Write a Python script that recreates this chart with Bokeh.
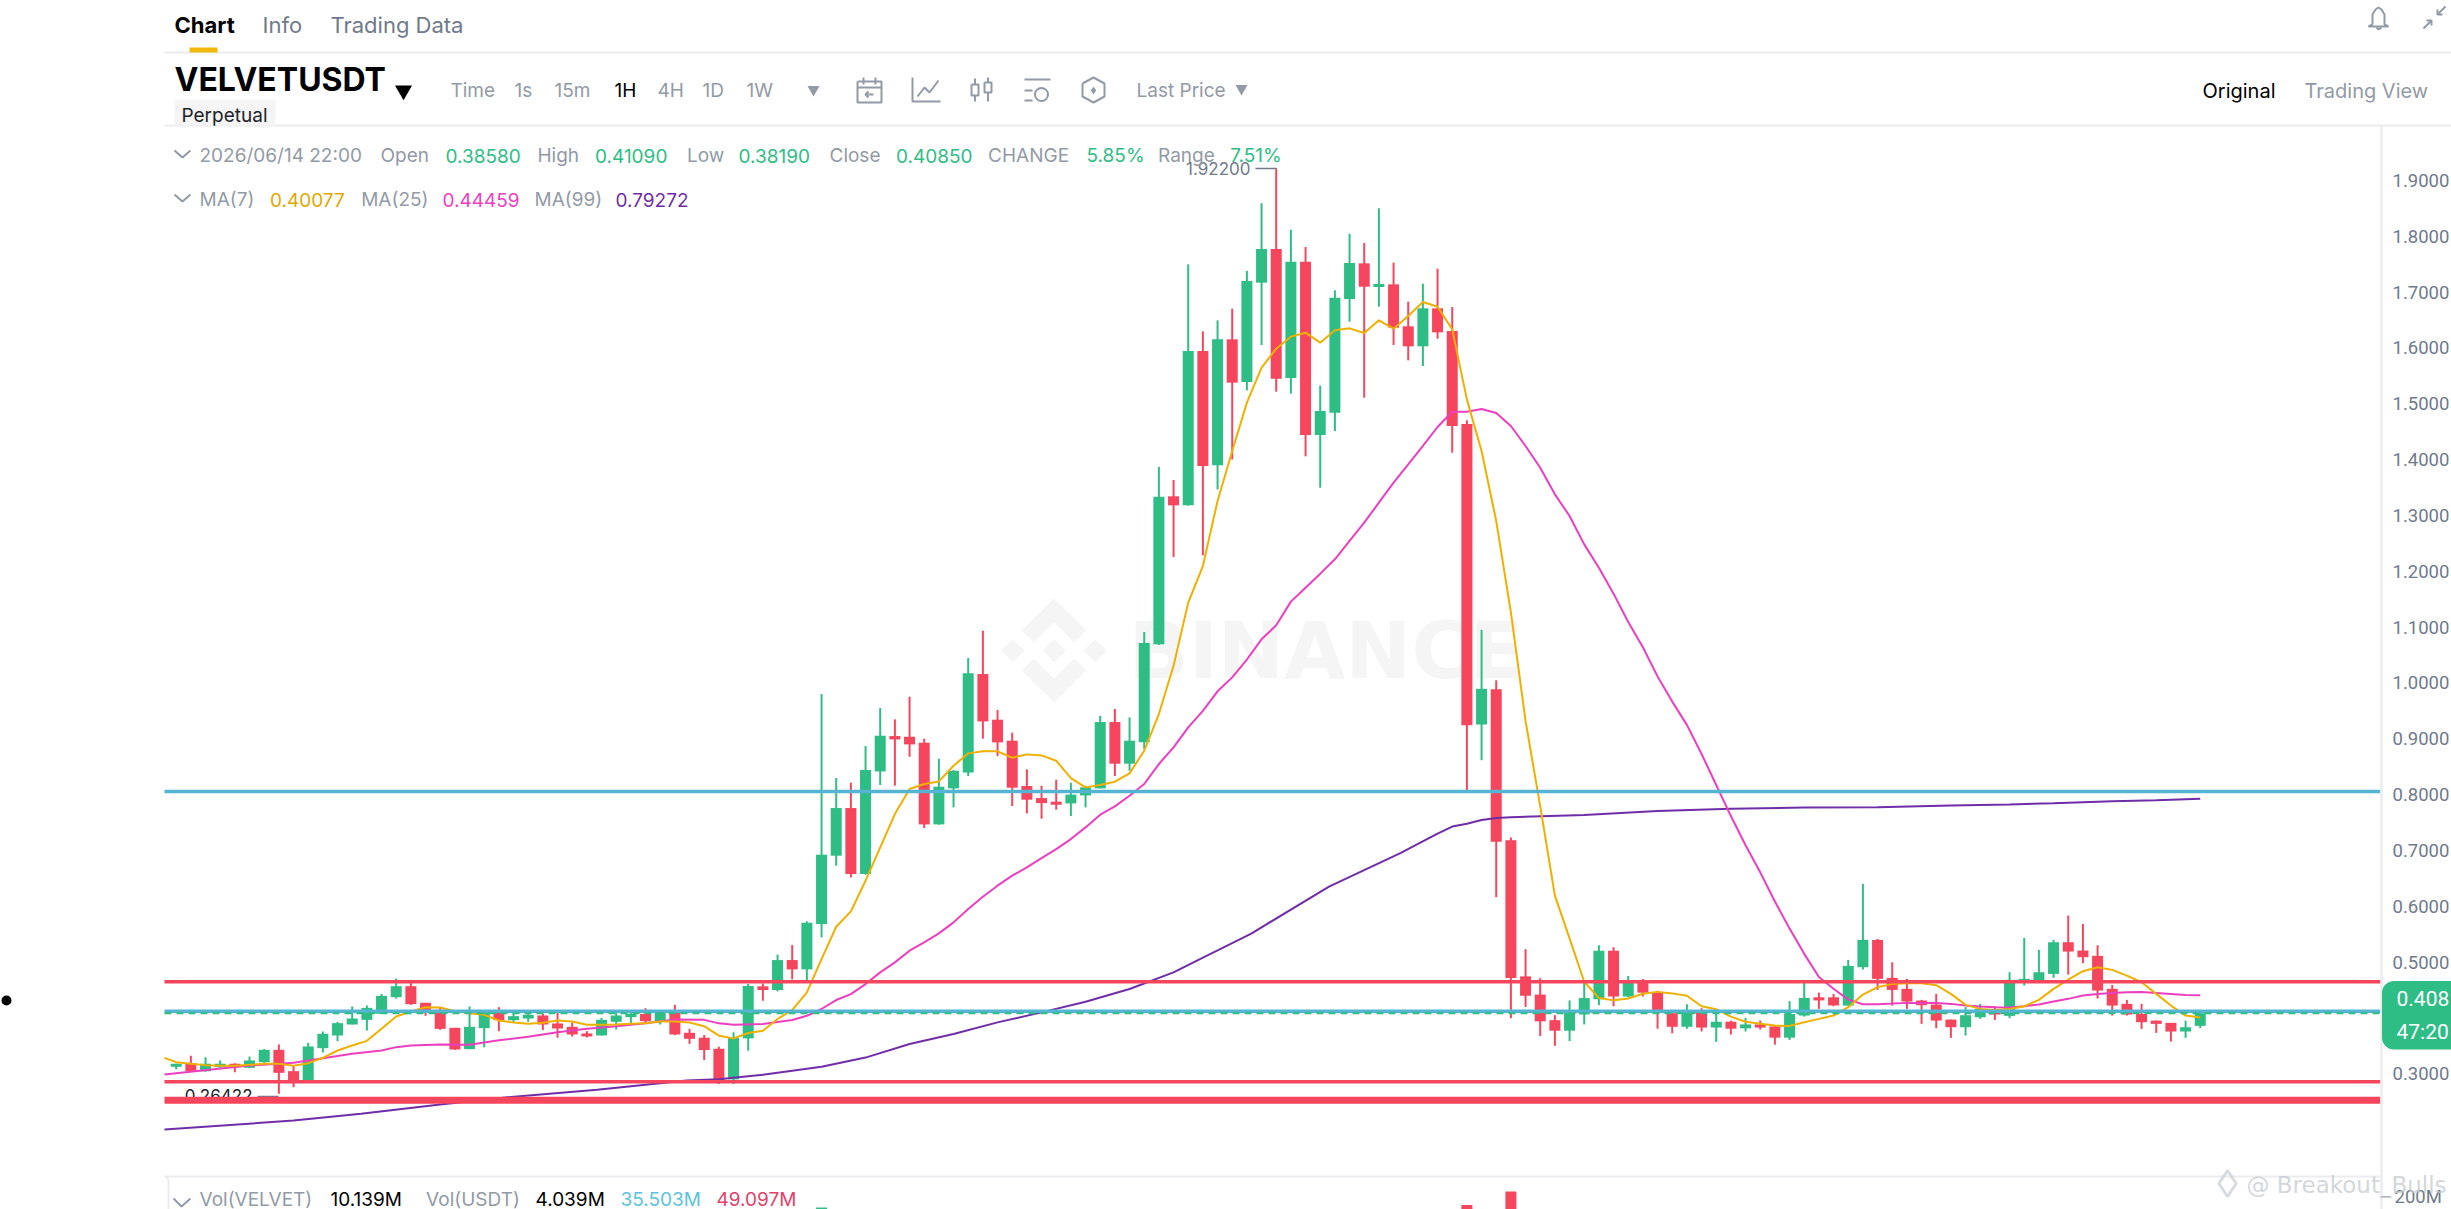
from bokeh.plotting import figure
from bokeh.embed import file_html
from bokeh.resources import INLINE
from bokeh.models import (Range1d, LinearAxis, FixedTicker, Label, BoxAnnotation)
from bokeh.core.properties import value
import math

# ---------- data ----------
first_index = 0
opens = [.3124,.3190,.3047,.3119,.3178,.3107,.3208,.3429,.3047,.2870,
 .3459,.3686,.3883,.3966,.4074,.4372,.4569,.4271,.4145,.3823,
 .3441,.3817,.4092,.3960,.3990,.4044,.3901,.3841,.3722,.3686,
 .3931,.4014,.4074,.3942,.4092,.3734,.3646,.3449,.2900,.3634,
 .4566,.4500,.5037,.4870,.5682,.6906,.7760,.6578,.8416,.9049,
 .9037,.8930,.7467,.8112,.8398,1.0160,.9342,.8966,.8154,.7939,
 .7873,.7843,.7986,.8112,.9300,.8554,.8936,1.0692,1.3343,1.3182,
 1.5946,1.3898,1.6155,1.5391,1.7170,1.7773,1.5462,1.7546,1.4442,1.4841,
 1.6877,1.7516,1.7092,1.7140,1.6388,1.6030,1.6710,1.6304,1.4639,.9256,
 .9888,.7185,.4745,.4419,.3960,.3772,.4064,.4335,.5204,.4384,
 .4662,.4467,.4085,.3842,.4106,.3828,.3932,.3814,.3884,.3849,
 .3647,.4043,.4370,.4370,.4222,.4909,.5398,.4718,.4521,.4312,
 .4240,.3971,.3834,.4013,.4133,.4037,.4670,.4640,.4789,.5356,
 .5207,.5112,.4521,.4252,.4073,.3953,.3912,.3757,.3858]
highs = [.3178,.3321,.3298,.3238,.3190,.3310,.3441,.3524,.3148,.3554,
 .3757,.3930,.4205,.4223,.4432,.4707,.4623,.4271,.4193,.3823,
 .4205,.4120,.4193,.4092,.4092,.4074,.4092,.3919,.3763,.4002,
 .4104,.4134,.4175,.4134,.4235,.3805,.3694,.3485,.3742,.4608,
 .4619,.5133,.5306,.5730,.9801,.8297,.8213,.8870,.9551,.9348,
 .9754,.9001,.8643,.8440,1.0446,1.0936,.9515,.9109,.8452,.8160,
 .8267,.8213,.8160,.9413,.9533,.9384,1.0912,1.3868,1.3636,1.7498,
 1.6298,1.6495,1.6704,1.7379,1.8591,1.9220,1.8119,1.7809,1.5325,1.7033,
 1.8047,1.7880,1.8501,1.7528,1.6830,1.7152,1.7421,1.6734,1.4704,1.0952,
 1.0048,.7233,.5232,.4711,.4051,.4314,.4627,.5302,.5267,.4752,
 .4697,.4488,.4120,.4245,.4175,.4106,.3953,.4002,.3953,.3863,
 .4301,.4627,.4453,.4432,.5040,.6401,.5416,.4998,.4700,.4324,
 .4431,.3971,.4192,.4252,.4210,.4819,.5434,.5219,.5398,.5834,
 .5685,.5303,.4592,.4324,.4252,.3953,.3912,.3953,.4109]
lows = [.3083,.3047,.3035,.3107,.3029,.3101,.3196,.26422,.2760,.2870,
 .3381,.3584,.3883,.3775,.4074,.4348,.4235,.4038,.3787,.3429,
 .3441,.3474,.3763,.3919,.3931,.3781,.3644,.3668,.3650,.3686,
 .3793,.3907,.3907,.3883,.3692,.3536,.3246,.2816,.2816,.3413,
 .4309,.4476,.4691,.4643,.5443,.6727,.6518,.6566,.8172,.8160,
 .8679,.7401,.7461,.7771,.8333,.9001,.8691,.7795,.7664,.7569,
 .7730,.7616,.7771,.8112,.8333,.8428,.8816,1.0680,1.2257,1.3176,
 1.2286,1.3468,1.4003,1.5241,1.6053,1.5218,1.5182,1.4060,1.3498,1.4513,
 1.6471,1.5110,1.6740,1.6053,1.5779,1.5677,1.6167,1.4125,.8067,.8617,
 .6163,.3995,.4197,.3675,.3501,.3585,.3884,.4231,.4210,.4370,
 .4384,.3807,.3724,.3807,.3758,.3571,.3703,.3758,.3793,.3522,
 .3606,.4023,.4162,.4210,.4222,.4867,.4503,.4222,.4162,.3894,
 .3816,.3643,.3685,.3983,.3965,.3995,.4580,.4640,.4718,.4777,
 .4980,.4348,.4043,.4043,.3804,.3733,.3577,.3643,.3819]
closes = [.3178,.3047,.3178,.3178,.3119,.3238,.3429,.3017,.2880,.3489,
 .3716,.3907,.3990,.4181,.4396,.4569,.4247,.4104,.3805,.3435,
 .3841,.4098,.3960,.4032,.4056,.3883,.3811,.3704,.3668,.3966,
 .4044,.4074,.3942,.4104,.3704,.3626,.3425,.2876,.3640,.4572,
 .4500,.5037,.4870,.5706,.6924,.7760,.6578,.8440,.9055,.8989,
 .8900,.7467,.8142,.8428,1.0172,.9312,.8936,.8124,.7909,.7849,
 .7819,.8000,.8130,.9300,.8554,.8966,1.0715,1.3337,1.3182,1.5946,
 1.3886,1.6155,1.5379,1.7200,1.7773,1.5450,1.7546,1.4442,1.4871,1.6901,
 1.7522,1.7098,1.7146,1.6364,1.6030,1.6710,1.6280,1.4603,.9242,.9895,
 .7157,.4717,.4398,.3939,.3772,.4092,.4356,.5204,.4384,.4627,
 .4453,.4106,.3842,.4106,.3828,.3932,.3807,.3884,.3828,.3647,
 .4071,.4359,.4314,.4224,.4933,.5398,.4700,.4503,.4294,.4228,
 .3953,.3834,.4049,.4162,.4061,.4682,.4700,.4819,.5356,.5189,
 .5088,.4491,.4222,.4061,.3924,.3894,.3757,.3834,.4085]

ma7_idx = [-0.8]+list(range(0,139))
ma7 = [.3286,.3208,.3178,.3155,.3143,.3143,.3160,.3178,.3178,.3143,.3190,
 .3286,.3417,.3507,.3590,.3805,.4026,.4115,.4193,.4187,.4121,
 .4086,.4056,.3954,.3919,.3895,.3913,.3954,.3936,.3877,.3877,
 .3883,.3895,.3907,.3936,.3936,.3919,.3853,.3682,.3634,.3730,
 .3771,.3981,.4142,.4458,.5055,.5634,.5909,.6458,.7055,.7652,
 .8100,.8190,.8237,.8518,.8739,.8775,.8775,.8661,.8721,.8703,
 .8607,.8297,.8130,.8172,.8231,.8380,.8787,.9443,1.0309,1.1439,
 1.2095,1.3260,1.4155,1.5021,1.5648,1.5988,1.6203,1.6274,1.6095,1.6316,
 1.6352,1.6268,1.6495,1.6346,1.6573,1.6824,1.6740,1.6334,1.5080,1.4155,
 1.2901,1.1265,.9319,.7790,.6191,.5426,.4648,.4356,.4315,.4349,
 .4433,.4467,.4440,.4398,.4210,.4155,.4023,.3932,.3897,.3863,
 .3858,.3924,.3983,.4043,.4192,.4419,.4551,.4610,.4622,.4622,
 .4586,.4431,.4234,.4162,.4144,.4162,.4210,.4324,.4521,.4688,
 .4837,.4909,.4861,.4759,.4640,.4431,.4222,.4043,.4008]

ma25_idx = [-0.8,0,5,7,8,10,12,14,15,16,18,20,22,24,26,28,30,32,34,36,37,38,40,42,43,
 44,45,46,47,48,49,50,51,52,53,54,55,56,57,58,59,60,61,62,63,64,65,66,67,68,69,70,71,72,
 73,74,75,76,77,78,79,80,81,82,83,84,85,86,87,88,89,90,91,92,93,94,95,96,97,98,99,100,
 101,102,103,104,105,106,107,108,109,110,111,112,113,114,115,116,118,120,121,122,123,124,
 125,126,127,128,129,130,131,132,133,134,135,136,137,138]
ma25 = [.2987,.3011,.3148,.3178,.3196,.3280,.3357,.3417,.3477,.3507,.3524,.3519,.3600,.3662,
 .3745,.3805,.3853,.3907,.3972,.3966,.3903,.3879,.3891,.3963,.4040,
 .4160,.4321,.4428,.4607,.4816,.4996,.5204,.5354,.5515,.5712,.5951,.6172,.6369,.6548,.6697,
 .6864,.7025,.7204,.7413,.7640,.7789,.7980,.8190,.8548,.8846,.9204,.9500,.9850,1.0100,
 1.0420,1.0782,1.1033,1.1457,1.1707,1.1958,1.2215,1.2543,1.2871,1.3230,1.3588,1.3916,1.4245,
 1.4585,1.4859,1.4859,1.4907,1.4835,1.4603,1.4245,1.3856,1.3379,1.2991,1.2483,1.2065,1.1600,
 1.1091,1.0639,1.0118,.9666,.9249,.8728,.8172,.7616,.7094,.6608,.6087,.5600,.5148,.4732,
 .4523,.4328,.4245,.4245,.4270,.4270,.4252,.4222,.4204,.4192,.4186,.4210,.4240,.4294,.4342,
 .4401,.4431,.4449,.4461,.4467,.4449,.4431,.4413,.4407]

ma99_idx = [-0.8,8,12.6,18,22.6,28.7,34.8,37,40,44,47,50,53,56,59,62,65,68,69.8,73.3,78.6,
 83.5,84.6,86,87,88,89,90,91,96,101,106,111,116,121,125,128,132,135,138]
ma99 = [.2000,.2163,.2282,.2449,.2581,.2712,.2879,.2900,.2984,.3127,.3290,.3533,.3712,.3921,
 .4100,.4291,.4518,.4816,.5055,.5512,.6352,.6956,.7108,.7303,.7428,.7477,.7546,.7581,.7595,
 .7637,.7706,.7748,.7769,.7776,.7806,.7825,.7845,.7882,.7900,.7927]

vol_idx = [44,88,91]
vol_vals = [178e6,183e6,210e6]
vol_up = [True,False,False]

cyan_levels = [.8056,.4120]
red_levels = [.4647,.2857]
thick_level = .2527
last_price = .4085
price_ticks = [.3,.5,.6,.7,.8,.9,1.0,1.1,1.2,1.3,1.4,1.5,1.6,1.7,1.8,1.9]
vol_ticks = [200e6]

GREEN="#2EBD85"; RED="#F6465D"; CYAN="#56B4D3"; GREY="#929AA5"; DARKGREY="#707A8A"
ORANGE="#F0B000"; PINK="#EC3FBF"; PURPLE="#6F2DA8"; RULE="#EAECEF"

# ---------- reference-pixel helpers for decoration ----------
def X(px): return (px-175.7)/14.667
def Y(py): return 1.9-(py-180)/558.3
def V(py): return 200e6+(1196-py)*2e6

p = figure(width=2451, height=1209, output_backend="svg", toolbar_location=None,
           x_range=Range1d(X(0),X(2451)), y_range=Range1d(Y(1209),Y(0)),
           x_axis_location=None, y_axis_location=None, min_border=0,
           min_border_left=0,min_border_right=0,min_border_top=0,min_border_bottom=0,
           background_fill_color="white", border_fill_color="white", outline_line_color=None)
p.grid.visible=False
p.extra_y_ranges={"vol":Range1d(V(1209),V(0))}

def polys(lines,color=GREY,width=2,alpha=1.0):
    p.multi_line([[X(a) for a,b in l] for l in lines],[[Y(b) for a,b in l] for l in lines],
                 line_color=color,line_width=width,line_alpha=alpha)

# BINANCE watermark
LOGO=[[(153,55),(245,150),(210,185),(153,125),(95,185),(60,150)],
      [(153,365),(245,270),(210,235),(153,295),(95,235),(60,270)],
      [(153,177),(187,210),(153,245),(120,210)],
      [(35,177),(69,210),(35,245),(2,210)],
      [(270,177),(303,210),(270,245),(237,210)]]
p.patches([[X(1000+a/2.851) for a,b in s] for s in LOGO],[[Y(580+b/3) for a,b in s] for s in LOGO],
          fill_color="#F5F5F5",line_color=None)
p.text([X(1128)],[Y(650)],text=["BINANCE"],text_font=value("DejaVu Sans"),text_font_style="bold",
       text_font_size="79px",text_color="#F5F5F5",text_baseline="middle")

# volume
p.vbar(x=vol_idx,top=vol_vals,bottom=0,width=.75,y_range_name="vol",
       fill_color=[GREEN if u else RED for u in vol_up],line_color=None)

# candles
idx=list(range(first_index,first_index+len(opens)))
cols=[GREEN if c>=o else RED for o,c in zip(opens,closes)]
p.segment(idx,lows,idx,highs,line_color=cols,line_width=2)
p.vbar(x=idx,top=[max(o,c) for o,c in zip(opens,closes)],bottom=[min(o,c) for o,c in zip(opens,closes)],
       width=.75,fill_color=cols,line_color=None)

# moving averages
p.line(ma99_idx,ma99,line_color=PURPLE,line_width=2)
p.line(ma25_idx,ma25,line_color=PINK,line_width=2)
p.line(ma7_idx,ma7,line_color=ORANGE,line_width=2)

# extreme markers
p.text([X(252)],[Y(1095)],text=["0.26422"],text_font=value("Inter"),text_font_size="17px",
       text_color="#1E2329",text_align="right",text_baseline="middle")
polys([[(257,1096),(278,1096)]],color=DARKGREY,width=1.5)
p.text([X(1250)],[Y(168)],text=["1.92200"],text_font=value("Inter"),text_font_size="17px",
       text_color=DARKGREY,text_align="right",text_baseline="middle")
polys([[(1255,168),(1276,168)]],color=DARKGREY,width=1.5)

# levels
x0,x1=X(164),X(2380)
p.segment([x0]*2,cyan_levels,[x1]*2,cyan_levels,line_color=CYAN,line_width=3.5)
p.segment([x0]*2,red_levels,[x1]*2,red_levels,line_color=RED,line_width=3.5)
p.segment([x0],[thick_level],[x1],[thick_level],line_color=RED,line_width=7)
p.segment([x0],[last_price],[x1],[last_price],line_color=GREEN,line_width=2,line_dash="7 5")

# rules
polys([[(164,52),(2451,52)],[(164,125),(2451,125)],[(164,1176),(2380,1176)],[(166,1176),(168,1180),(168,1209)]],color=RULE,width=2)
p.quad(left=[X(189)],right=[X(217)],top=[Y(47)],bottom=[Y(52)],fill_color="#F0B90B",line_color=None)
p.quad(left=[X(174)],right=[X(275)],top=[Y(99)],bottom=[Y(125)],fill_color="#F5F5F5",line_color=None)

# icons
tri=dict(marker="inverted_triangle",line_color=None)
p.scatter([X(403)],[Y(90)],size=17,fill_color="#000000",**tri)
p.scatter([X(813)],[Y(89)],size=12,fill_color=GREY,**tri)
p.scatter([X(1241)],[Y(88)],size=12,fill_color=GREY,**tri)
polys([
 [(857,81),(881,81),(881,102),(857,102),(857,81)],[(857,87),(881,87)],[(863,77),(863,84)],[(875,77),(875,84)],
 [(873,94),(865,94)],[(868,91),(865,94),(868,97)],
 [(912,77),(912,101),(940,101)],[(917,96),(924,87),(929,92),(938,80)],
 [(971,84),(978,84),(978,95),(971,95),(971,84)],[(974.5,78),(974.5,84)],[(974.5,95),(974.5,101)],
 [(984,82),(991,82),(991,92),(984,92),(984,82)],[(987.5,77),(987.5,82)],[(987.5,92),(987.5,101)],
 [(1024,79),(1050,79)],[(1024,90),(1032,90)],[(1024,100),(1032,100)],
 [(1082,83),(1093,77),(1104,83),(1104,96),(1093,102),(1082,96),(1082,83)],
 [(174,150),(182,157),(190,150)],[(174,194),(182,201),(190,194)],[(173,1198),(181,1206),(190,1198)],
 [(2372,24),(2372,14),(2375,9),(2378,7),(2381,9),(2384,14),(2384,24),(2388,26),(2368,26),(2372,24)],
 [(2376,27),(2378,29),(2381,27)],
 [(2423,28),(2431,20)],[(2426,20),(2431,20),(2431,25)],
 [(2445,6),(2437,14)],[(2437,9),(2437,14),(2442,14)]])
p.scatter([X(1041)],[Y(94)],size=13,marker="circle",fill_color=None,line_color=GREY,line_width=2)
p.scatter([X(1093)],[Y(90)],size=8,marker="diamond",fill_color=GREY,line_color=None)
p.scatter([X(6)],[Y(1000)],size=10,marker="circle",fill_color="#000000",line_color=None)
p.scatter([X(2227)],[Y(1183)],size=26,marker="diamond",fill_color=None,line_color="#C8CCD0",line_width=3,line_alpha=.7)

# axes
ax=LinearAxis(ticker=FixedTicker(ticks=price_ticks),fixed_location=X(2381),
              bounds=(Y(1209),Y(125)),
              major_tick_line_color=None,major_tick_out=0,major_tick_in=0,minor_tick_line_color=None,
              major_label_standoff=11,major_label_text_font="Roboto",major_label_text_font_size="18.5px",
              major_label_text_color=DARKGREY,axis_line_color=RULE,axis_line_width=2,
              major_label_overrides={t:f"{t:.4f}" for t in price_ticks})
p.add_layout(ax,"right")
vx=LinearAxis(y_range_name="vol",ticker=FixedTicker(ticks=vol_ticks),fixed_location=X(2381),
              bounds=(V(1209),V(125)),
              major_tick_line_color=GREY,major_tick_out=9,major_tick_in=0,minor_tick_line_color=None,
              major_label_standoff=4,major_label_text_font="Roboto",major_label_text_font_size="18.5px",
              major_label_text_color=DARKGREY,axis_line_color=RULE,axis_line_width=2,
              major_label_overrides={200e6:"200M"})
p.add_layout(vx,"right")

# price badge
p.add_layout(BoxAnnotation(left=X(2381.5),right=X(2490),top=Y(980.5),bottom=Y(1049),
             fill_color=GREEN,fill_alpha=1,line_color=None,border_radius=12))

def T(px,py,text,color=GREY,size=19,font="Inter",style="normal",align="left",alpha=1.0):
    p.add_layout(Label(x=X(px),y=Y(py),text=text,text_color=color,text_font_size=f"{size}px",
                       text_font=font,text_font_style=style,text_align=align,text_baseline="middle",text_alpha=alpha))

T(2396,998,"0.408","#FFFFFF",21,font="Roboto")
T(2396,1031,"47:20","#FFFFFF",21,font="Roboto")
T(174,24,"Chart","#000000",22,style="bold")
T(262,24,"Info",DARKGREY,22)
T(330,24,"Trading Data",DARKGREY,22)
T(174,79,"VELVETUSDT","#000000",32,style="bold")
for x_,t_ in [(450,"Time"),(514,"1s"),(554,"15m"),(657,"4H"),(702,"1D"),(746,"1W"),(1136,"Last Price")]:
    T(x_,90,t_,GREY,19)
T(614,90,"1H","#000000",19)
T(181,115,"Perpetual","#1E2329",19)
for x_,t_,c_ in [(199,"2026/06/14 22:00",GREY),(380,"Open",GREY),(445,"0.38580",GREEN),(537,"High",GREY),
                 (594.5,"0.41090",GREEN),(686.5,"Low",GREY),(738,"0.38190",GREEN),(829,"Close",GREY),
                 (895.5,"0.40850",GREEN),(987.6,"CHANGE",GREY),(1086,"5.85%",GREEN),(1157.5,"Range",GREY),
                 (1229.7,"7.51%",GREEN)]:
    T(x_,155,t_,c_,19)
for x_,t_,c_ in [(199,"MA(7)",GREY),(269.5,"0.40077","#E0A800"),(360.7,"MA(25)",GREY),(442,"0.44459",PINK),
                 (534,"MA(99)",GREY),(615,"0.79272",PURPLE)]:
    T(x_,199,t_,c_,19)
for x_,t_,c_ in [(199,"Vol(VELVET)",GREY),(330,"10.139M","#000000"),(425.6,"Vol(USDT)",GREY),(535,"4.039M","#000000"),
                 (620,"35.503M","#5BC4D9"),(716,"49.097M","#E0426B")]:
    T(x_,1199,t_,c_,19)
T(2202,90,"Original","#000000",20)
T(2304,90,"Trading View",GREY,20)
T(2246,1184,"@ Breakout_Bulls","#C8CCD0",23,font="DejaVu Sans",alpha=.8)

open("out.html","w").write(file_html(p,INLINE))
